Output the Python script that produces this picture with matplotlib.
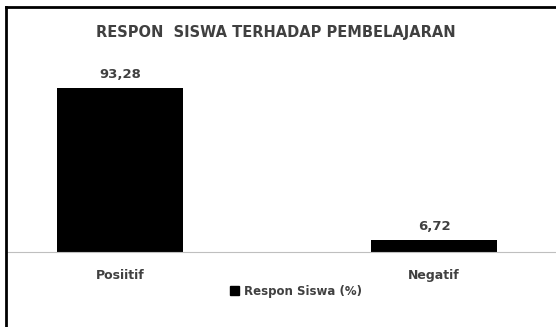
import matplotlib.pyplot as plt
from matplotlib.lines import Line2D
from matplotlib.patches import Patch

categories = ['Posiitif', 'Negatif']
values = [93.28, 6.72]
value_labels = ['93,28', '6,72']
series_name = 'Respon Siswa (%)'
title = 'RESPON  SISWA TERHADAP PEMBELAJARAN'

W, H = 556, 327
fig = plt.figure(figsize=(W / 100, H / 100), dpi=100)
plt.rcParams['font.family'] = ['DejaVu Sans']

# plot area in pixels
x0, x1 = 7, 556
y_base, y_top = 252, 60
ax = fig.add_axes([x0 / W, 1 - y_base / H, (x1 - x0) / W, (y_base - y_top) / H])

pos = [0, 1]
ax.bar(pos, values, width=0.4, color='black')
ax.set_xlim((7 - 120) / 314, (556 - 120) / 314)
ax.set_ylim(0, (y_base - y_top) / 1.76)

for x, v, lab in zip(pos, values, value_labels):
    ax.annotate(lab, (x, v), xytext=(0, 5), textcoords='offset points',
                ha='center', va='bottom', fontsize=9.5, fontweight='bold', color='#404040')

for s in ['top', 'right', 'left']:
    ax.spines[s].set_visible(False)
ax.spines['bottom'].set_color('#bfbfbf')
ax.set_yticks([])
ax.set_xticks(pos)
ax.set_xticklabels(categories, fontsize=9, fontweight='bold', color='#404040')
ax.tick_params(axis='x', length=0, pad=12)

fig.text(276 / W, 1 - 32 / H, title, ha='center', va='center',
         fontsize=10.5, fontweight='bold', color='#404040')

fig.legend(handles=[Patch(color='black', label=series_name)], loc='center',
           bbox_to_anchor=(296 / W, 1 - 291 / H), frameon=False,
           prop={'size': 8.5, 'weight': 'bold'}, labelcolor='#404040',
           handlelength=0.8, handleheight=0.7, handletextpad=0.4)

# outer frame (left and top edges visible)
fig.add_artist(Line2D([6 / W, 6 / W], [0, 1 - 7 / H], color='black', lw=2))
fig.add_artist(Line2D([6 / W, 1], [1 - 7 / H, 1 - 7 / H], color='black', lw=2))

fig.savefig('out.png', dpi=100)
